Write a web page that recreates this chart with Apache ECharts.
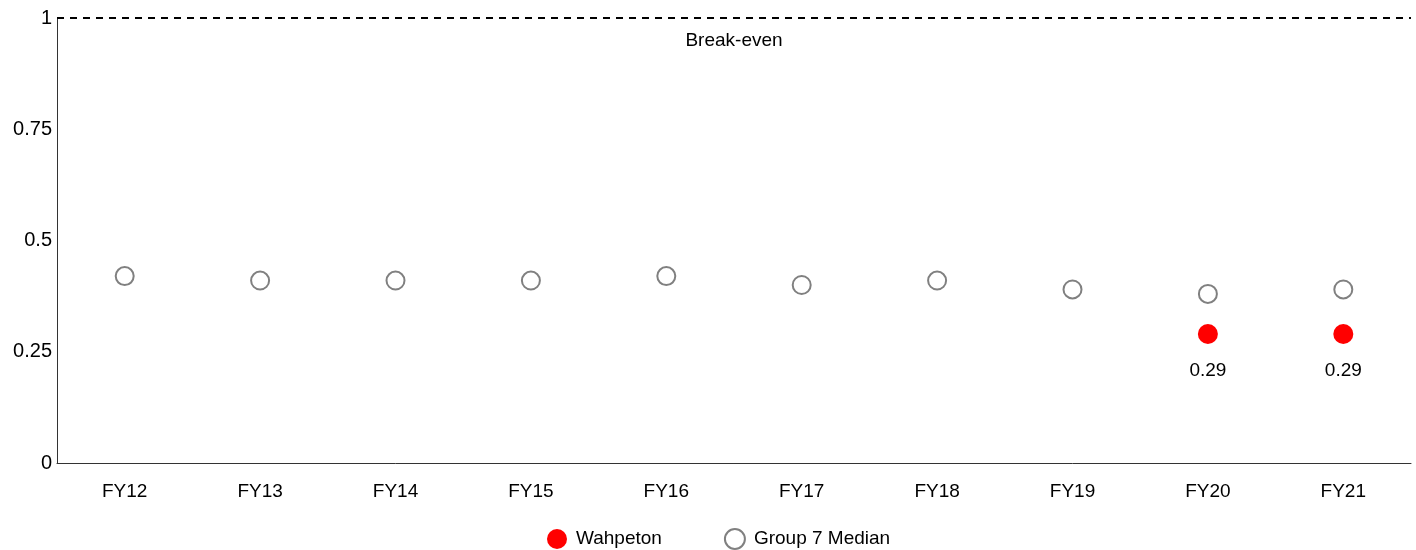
<!DOCTYPE html>
<html>
<head>
<meta charset="utf-8">
<script src="https://cdn.jsdelivr.net/npm/echarts@6/dist/echarts.min.js"></script>
<style>
  html, body { margin: 0; padding: 0; background: #fff; }
  #chart { width: 1416px; height: 550px; }
</style>
</head>
<body>
<div id="chart"></div>
<script>
const years = ['FY12', 'FY13', 'FY14', 'FY15', 'FY16', 'FY17', 'FY18', 'FY19', 'FY20', 'FY21']
const wahpeton = [null, null, null, null, null, null, null, null, 0.29, 0.29]
const groupMedian = [0.42, 0.41, 0.41, 0.41, 0.42, 0.40, 0.41, 0.39, 0.38, 0.39]
const breakEven = 1

const font = 'Liberation Sans, Arial, sans-serif'

const chart = echarts.init(document.getElementById('chart'), null, { renderer: 'canvas' })
chart.setOption({
  animation: false,
  textStyle: { fontFamily: font },
  grid: { left: 57, right: 5, top: 18, bottom: 87, containLabel: false },
  legend: {
    top: 523,
    left: 542,
    itemWidth: 20,
    itemHeight: 20,
    itemGap: 62,
    textStyle: { fontSize: 19, color: '#000', fontFamily: font, padding: [0, 0, 0, 4] },
    data: [
      { name: 'Wahpeton', icon: 'circle' },
      { name: 'Group 7 Median', icon: 'circle' },
    ],
  },
  xAxis: {
    type: 'category',
    data: years,
    axisLine: { lineStyle: { color: '#333', width: 1 } },
    axisTick: { show: false },
    axisLabel: { color: '#000', fontSize: 19, margin: 19, fontFamily: font },
    splitLine: { show: false },
  },
  yAxis: {
    type: 'value',
    min: 0,
    max: 1,
    interval: 0.25,
    axisLine: { show: true, lineStyle: { color: '#333', width: 1 } },
    axisTick: { show: false },
    axisLabel: { color: '#000', fontSize: 20, margin: 5, fontFamily: font },
    splitLine: { show: false },
  },
  series: [
    {
      name: 'Wahpeton',
      type: 'scatter',
      data: wahpeton,
      symbol: 'circle',
      symbolSize: 20,
      itemStyle: { color: '#ff0000', opacity: 1 },
      label: {
        show: true,
        position: 'bottom',
        distance: 17,
        color: '#000',
        fontSize: 19,
        fontFamily: font,
        formatter: p => p.value.toFixed(2),
      },
      z: 3,
    },
    {
      name: 'Group 7 Median',
      type: 'scatter',
      data: groupMedian,
      symbol: 'circle',
      symbolSize: 18,
      itemStyle: { color: '#fff', borderColor: '#808080', borderWidth: 2, opacity: 1 },
      markLine: {
        silent: true,
        symbol: ['none', 'none'],
        lineStyle: { color: '#000', type: [7, 6], width: 2 },
        label: {
          show: true,
          position: 'insideMiddleBottom',
          formatter: 'Break-even',
          color: '#000',
          fontSize: 19,
          fontFamily: font,
          distance: 13,
        },
        data: [{ yAxis: breakEven }],
      },
      z: 2,
    },
  ],
})
</script>
</body>
</html>
